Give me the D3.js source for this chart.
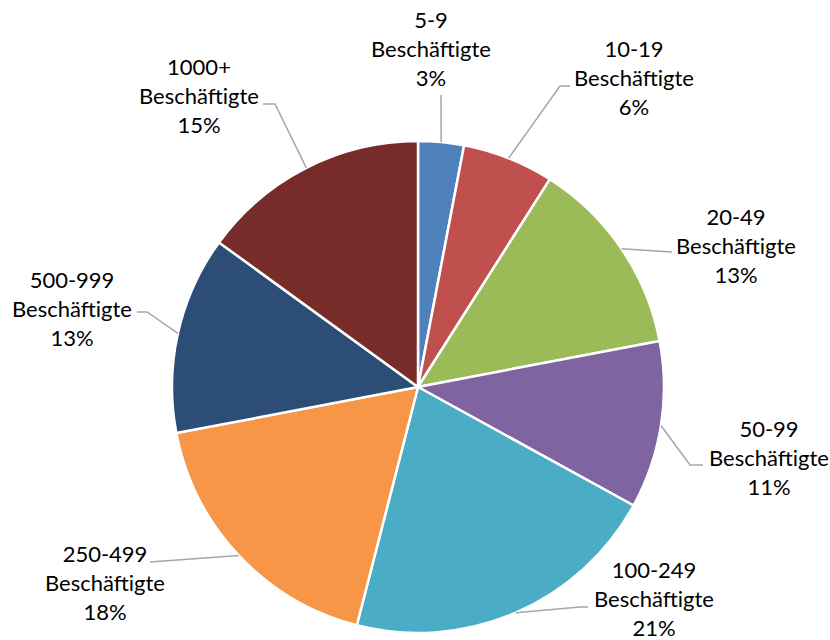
<!DOCTYPE html>
<html>
<head>
<meta charset="utf-8">
<script src="https://cdn.jsdelivr.net/npm/d3@7"></script>
<style>
  body { margin: 0; background: #fff; }
  text { font-family: Lato, "Open Sans", sans-serif; font-size: 22px; fill: #000; }
</style>
</head>
<body>
<div id="pie"></div>
<script>
// data
var categories = ["5-9", "10-19", "20-49", "50-99", "100-249", "250-499", "500-999", "1000+"];
var values = [3, 6, 13, 11, 21, 18, 13, 15];
var colors = ["#4F81BD", "#C0504D", "#9BBB59", "#8064A2", "#4BACC6", "#F79646", "#2C4D75", "#772C2A"];

// label layout: text centre x, first baseline y, leader end points
var labelPos = [[431, 28], [634, 57], [736, 225], [769, 437], [654, 578], [105, 562], [72, 288], [199, 75]];
var leaderEnds = [
  [[441, 95]],
  [[560, 86], [570, 86]],
  [[672, 252]],
  [[690, 465], [703, 465]],
  [[580, 607], [588, 607]],
  [[150, 562]],
  [[147, 312], [137, 312]],
  [[275, 104], [263, 104]]
];

var width = 830, height = 640;
var cx = 418, cy = 387, radius = 246;

var svg = d3.select("#pie").append("svg")
    .attr("width", width)
    .attr("height", height);

var pie = d3.pie().sort(null).value(function(d) { return d; });
var arcs = pie(values);
var arc = d3.arc().innerRadius(0).outerRadius(radius);

var g = svg.append("g").attr("transform", "translate(" + cx + "," + cy + ")");

g.selectAll("path")
    .data(arcs)
  .enter().append("path")
    .attr("d", arc)
    .style("fill", function(d, i) { return colors[i]; })
    .style("stroke", "#fff")
    .style("stroke-width", 2.5)
    .style("stroke-linejoin", "round");

// leader lines
var line = d3.line();
svg.selectAll(".leader")
    .data(arcs)
  .enter().append("path")
    .attr("class", "leader")
    .attr("d", function(d, i) {
      var a = (d.startAngle + d.endAngle) / 2;
      var start = [cx + radius * Math.sin(a), cy - radius * Math.cos(a)];
      return line([start].concat(leaderEnds[i]));
    })
    .style("fill", "none")
    .style("stroke", "#A6A6A6")
    .style("stroke-width", 1.5);

// labels
var labels = svg.selectAll(".lbl")
    .data(arcs)
  .enter().append("text")
    .attr("class", "lbl")
    .attr("text-anchor", "middle");

labels.each(function(d, i) {
  var t = d3.select(this);
  var lines = [categories[i], "Beschäftigte", values[i] + "%"];
  lines.forEach(function(s, k) {
    t.append("tspan")
      .attr("x", labelPos[i][0])
      .attr("y", labelPos[i][1] + k * 29)
      .text(s);
  });
});
</script>
</body>
</html>
